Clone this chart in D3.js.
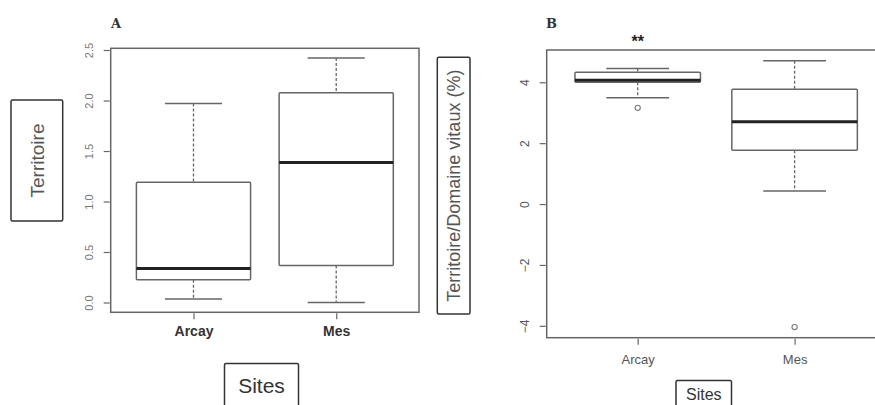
<!DOCTYPE html>
<html>
<head>
<meta charset="utf-8">
<script src="https://cdn.jsdelivr.net/npm/d3@7"></script>
<style>
  body { margin: 0; background: #fff; }
  svg { display: block; font-family: "Liberation Sans", Arial, sans-serif; }
</style>
</head>
<body>
<div id="chart"></div>
<script>
// data
var sites = ["Arcay", "Mes"]

// panel A : Territoire
var statsA = [
  { site: "Arcay", lo: 0.034, q1: 0.225, med: 0.337, q3: 1.19, hi: 1.97, out: [] },
  { site: "Mes",   lo: 0.0,   q1: 0.366, med: 1.386, q3: 2.077, hi: 2.42, out: [] }
]
var ticksA = [0, 0.5, 1, 1.5, 2, 2.5]

// panel B : Territoire/Domaine vitaux (%)
var statsB = [
  { site: "Arcay", lo: 3.49, q1: 4.0,  med: 4.07, q3: 4.33, hi: 4.45, out: [3.16] },
  { site: "Mes",   lo: 0.43, q1: 1.77, med: 2.70, q3: 3.77, hi: 4.71, out: [-4.04] }
]
var ticksB = [-4, -2, 0, 2, 4]

var svg = d3.select("#chart").append("svg")
  .attr("width", 875)
  .attr("height", 405)

var lineCol = "#666"

//Draws one R style boxplot panel
function drawPanel(opt) {
  var x = d3.scaleLinear().domain([0.42, 2.58]).range([opt.left, opt.right])
  var y = d3.scaleLinear().domain(opt.ydom).range([opt.bottom, opt.top])

  var g = svg.append("g")

  //plot frame (panel B runs off the right edge like in the original)
  g.append("rect")
    .attr("x", opt.left).attr("y", opt.top)
    .attr("width", opt.right - opt.left).attr("height", opt.bottom - opt.top)
    .attr("fill", "none").attr("stroke", lineCol).attr("stroke-width", 1.5)

  //y axis, R puts the labels turned on their side
  var yAxis = d3.axisLeft(y).tickValues(opt.ticks).tickSize(6).tickFormat(opt.fmt)
  var ya = g.append("g")
    .attr("transform", "translate(" + (opt.left - 1) + ",0)")
    .call(yAxis)
  ya.select(".domain").remove()
  ya.selectAll(".tick line").attr("stroke", lineCol).attr("stroke-width", 1.2)
  ya.selectAll(".tick text")
    .attr("x", 0).attr("dy", 0)
    .attr("transform", "translate(" + (-opt.tickPad) + ",0) rotate(-90)")
    .attr("text-anchor", "middle")
    .attr("fill", opt.tickCol)
    .style("font-size", opt.tickSize + "px")

  //x axis, only the two ticks
  var xAxis = d3.axisBottom(x).tickValues([1, 2]).tickSize(6).tickFormat(function(d){ return sites[d - 1] })
  var xa = g.append("g")
    .attr("transform", "translate(0," + (opt.bottom + 1) + ")")
    .call(xAxis)
  xa.select(".domain").remove()
  xa.selectAll(".tick line").attr("stroke", lineCol).attr("stroke-width", 1.2)
  xa.selectAll(".tick text")
    .attr("y", opt.xLabY).attr("dy", 0)
    .attr("fill", opt.xLabCol)
    .style("font-size", opt.xLabSize + "px")
    .style("font-weight", opt.xLabWeight)

  var bw = x(1.4) - x(1)
  var cw = x(1.2) - x(1)

  var b = g.selectAll(".box").data(opt.stats).enter().append("g")
  b.each(function(d, i) {
    var s = d3.select(this)
    var cx = x(i + 1)
    //whiskers
    s.append("line").attr("x1", cx).attr("x2", cx).attr("y1", y(d.hi)).attr("y2", y(d.q3))
      .attr("stroke", lineCol).attr("stroke-width", 1.3).attr("stroke-dasharray", "3,2")
    s.append("line").attr("x1", cx).attr("x2", cx).attr("y1", y(d.q1)).attr("y2", y(d.lo))
      .attr("stroke", lineCol).attr("stroke-width", 1.3).attr("stroke-dasharray", "3,2")
    s.append("line").attr("x1", cx - cw).attr("x2", cx + cw).attr("y1", y(d.hi)).attr("y2", y(d.hi))
      .attr("stroke", lineCol).attr("stroke-width", 1.5)
    s.append("line").attr("x1", cx - cw).attr("x2", cx + cw).attr("y1", y(d.lo)).attr("y2", y(d.lo))
      .attr("stroke", lineCol).attr("stroke-width", 1.5)
    //box
    s.append("rect").attr("x", cx - bw).attr("y", y(d.q3))
      .attr("width", 2 * bw).attr("height", y(d.q1) - y(d.q3))
      .attr("rx", 1)
      .attr("fill", "#fff").attr("stroke", lineCol).attr("stroke-width", 1.5)
    //median
    s.append("line").attr("x1", cx - bw).attr("x2", cx + bw).attr("y1", y(d.med)).attr("y2", y(d.med))
      .attr("stroke", "#222").attr("stroke-width", 3)
    //outliers
    s.selectAll("circle").data(d.out).enter().append("circle")
      .attr("cx", cx).attr("cy", function(v){ return y(v) }).attr("r", 2.6)
      .attr("fill", "none").attr("stroke", "#777").attr("stroke-width", 1.1)
  })
  return { x: x, y: y }
}

var pA = drawPanel({
  left: 110.7, right: 419, top: 48.3, bottom: 312.3,
  ydom: [-0.097, 2.517], ticks: ticksA, fmt: d3.format(".1f"),
  tickPad: 17, tickSize: 11, tickCol: "#777",
  stats: statsA, xLabY: 23, xLabCol: "#333", xLabSize: 14, xLabWeight: "bold"
})

var pB = drawPanel({
  left: 546.7, right: 885.6, top: 50, bottom: 337.7,
  ydom: [-4.39, 5.06], ticks: ticksB, fmt: d3.format("d"),
  tickPad: 17, tickSize: 12, tickCol: "#555",
  stats: statsB, xLabY: 25, xLabCol: "#555", xLabSize: 13, xLabWeight: "normal"
})

//Panel letters
svg.append("text").text("A")
  .attr("x", 111).attr("y", 28)
  .style("font-family", "'DejaVu Serif', 'Liberation Serif', serif")
  .style("font-weight", "bold").style("font-size", "13px").attr("fill", "#333")
svg.append("text").text("B")
  .attr("x", 546).attr("y", 28)
  .style("font-family", "'DejaVu Serif', 'Liberation Serif', serif")
  .style("font-weight", "bold").style("font-size", "13px").attr("fill", "#333")

//significance stars above Arcay in B
svg.append("text").text("**")
  .attr("x", pB.x(1)).attr("y", 47)
  .attr("text-anchor", "middle")
  .style("font-size", "16px").style("font-weight", "bold").attr("fill", "#222")

//framed axis titles (pasted text boxes in the original)
function framedLabel(x0, y0, w, h, txt, size, rotate, baseY) {
  svg.append("rect")
    .attr("x", x0).attr("y", y0).attr("width", w).attr("height", h)
    .attr("rx", 1.5)
    .attr("fill", "#fff").attr("stroke", "#333").attr("stroke-width", 1.5)
  var cx = x0 + w / 2, cy = y0 + h / 2
  if (rotate) {
    svg.append("text").text(txt)
      .attr("transform", "translate(" + cx + "," + cy + ") rotate(-90)")
      .attr("text-anchor", "middle")
      .attr("dy", "0.35em")
      .style("font-size", size + "px")
      .attr("fill", "#555")
  } else {
    svg.append("text").text(txt)
      .attr("x", cx).attr("y", baseY)
      .attr("text-anchor", "middle")
      .style("font-size", size + "px")
      .attr("fill", "#333")
  }
}

framedLabel(11, 100, 51.7, 121, "Territoire", 19, true)
framedLabel(437.3, 57.3, 32.7, 256.7, "Territoire/Domaine vitaux (%)", 18, true)
framedLabel(224.5, 363.5, 74, 50, "Sites", 21, false, 393)
framedLabel(676, 380.5, 55.5, 40, "Sites", 16, false, 400)
</script>
</body>
</html>
